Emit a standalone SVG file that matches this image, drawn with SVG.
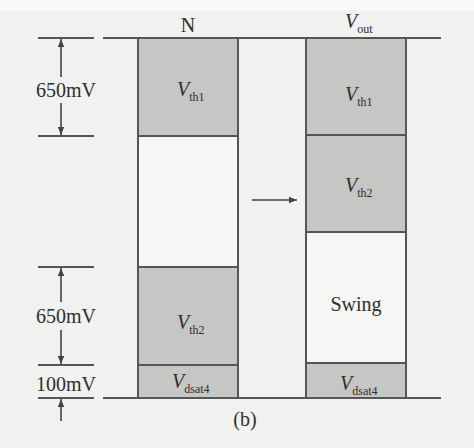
<svg xmlns="http://www.w3.org/2000/svg" width="474" height="448" viewBox="0 0 474 448">
<defs>
<marker id="ah" viewBox="0 0 10 10" refX="10" refY="5" markerWidth="8" markerHeight="8" orient="auto-start-reverse" markerUnits="userSpaceOnUse">
<path d="M0,1 L10,5 L0,9 z" fill="#444"/>
</marker>
<style>
.bg{fill:#f1f1ef}
.fill{fill:#c6c6c4;stroke:#555;stroke-width:2}
.empty{fill:#f6f6f4;stroke:#555;stroke-width:2}
.ln{stroke:#555;stroke-width:2;fill:none}
.dim{stroke:#444;stroke-width:1.6;fill:none}
text{font-family:"Liberation Serif","Times New Roman",serif;fill:#2e2e2e;font-size:20px}
.v{font-style:italic}
.sub{font-size:12px;font-style:normal}
</style>
</defs>
<rect class="bg" x="0" y="0" width="474" height="448"/>
<rect x="0" y="0" width="474" height="10" fill="#fafafa"/>

<g id="col-N">
<rect class="fill" x="138" y="38" width="100" height="98"/>
<rect class="empty" x="138" y="136" width="100" height="131"/>
<rect class="fill" x="138" y="267" width="100" height="98"/>
<rect class="fill" x="138" y="365" width="100" height="33"/>
<text x="188" y="32" text-anchor="middle">N</text>
<text class="v" x="177" y="96">V<tspan class="sub" dy="5">th1</tspan></text>
<text class="v" x="177" y="329">V<tspan class="sub" dy="5">th2</tspan></text>
<text class="v" x="172" y="388">V<tspan class="sub" dy="5">dsat4</tspan></text>
</g>

<g id="col-out">
<rect class="fill" x="306" y="38" width="100" height="97"/>
<rect class="fill" x="306" y="135" width="100" height="97"/>
<rect class="empty" x="306" y="232" width="100" height="131"/>
<rect class="fill" x="306" y="363" width="100" height="35"/>
<text class="v" x="345" y="28">V<tspan class="sub" dy="5">out</tspan></text>
<text class="v" x="345" y="101">V<tspan class="sub" dy="5">th1</tspan></text>
<text class="v" x="345" y="192">V<tspan class="sub" dy="5">th2</tspan></text>
<text x="356" y="311" text-anchor="middle">Swing</text>
<text class="v" x="340" y="390">V<tspan class="sub" dy="5">dsat4</tspan></text>
</g>

<g id="connectors">
<line class="ln" x1="103" y1="38" x2="441" y2="38"/>
<line class="ln" x1="103" y1="398" x2="441" y2="398"/>
<line class="ln" x1="38" y1="38" x2="94" y2="38"/>
<line class="ln" x1="38" y1="136" x2="94" y2="136"/>
<line class="ln" x1="38" y1="267" x2="94" y2="267"/>
<line class="ln" x1="38" y1="365" x2="94" y2="365"/>
<line class="ln" x1="38" y1="398" x2="94" y2="398"/>
<line class="dim" x1="61" y1="77" x2="61" y2="39" marker-end="url(#ah)"/>
<line class="dim" x1="61" y1="103" x2="61" y2="135" marker-end="url(#ah)"/>
<line class="dim" x1="61" y1="302" x2="61" y2="268" marker-end="url(#ah)"/>
<line class="dim" x1="61" y1="330" x2="61" y2="364" marker-end="url(#ah)"/>
<line class="dim" x1="61" y1="421" x2="61" y2="399" marker-end="url(#ah)"/>
<line class="dim" stroke-width="2.2" x1="252" y1="200" x2="297" y2="200" marker-end="url(#ah)"/>
</g>

<g id="labels">
<text x="66" y="97" text-anchor="middle">650mV</text>
<text x="66" y="323" text-anchor="middle">650mV</text>
<text x="66" y="391" text-anchor="middle">100mV</text>
<text x="245" y="426" text-anchor="middle">(b)</text>
</g>
</svg>
